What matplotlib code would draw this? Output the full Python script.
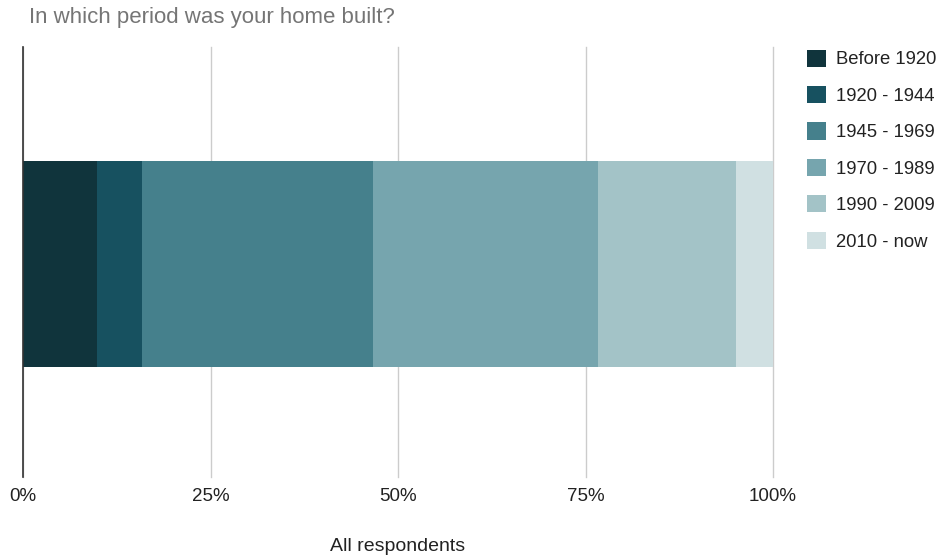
import matplotlib.pyplot as plt

plt.rcParams['font.family'] = ['Liberation Sans', 'DejaVu Sans']

periods = ['Before 1920', '1920 - 1944', '1945 - 1969', '1970 - 1989', '1990 - 2009', '2010 - now']
shares = [9.9, 6.0, 30.8, 30.0, 18.4, 4.9]
colors = ['#10343c', '#175160', '#45808c', '#76a5ae', '#a3c3c7', '#d0e0e2']
group = 'All respondents'

fig = plt.figure(figsize=(9.48, 5.59), dpi=100)
ax = fig.add_axes([23 / 948, 1 - 477 / 559, 750 / 948, 430 / 559])

left = 0
bars = []
for name, val, col in zip(periods, shares, colors):
    b = ax.barh(0, val, left=left, height=0.479, color=col, label=name, zorder=3)
    bars.append(b)
    left += val

ax.set_xlim(0, 100)
ax.set_ylim(-0.4953, 0.5047)
ax.set_xticks([0, 25, 50, 75, 100])
ax.set_xticklabels(['0%', '25%', '50%', '75%', '100%'], fontsize=13.5, color='#222222')
ax.set_yticks([])
ax.tick_params(axis='x', length=0, pad=8)
ax.grid(axis='x', color='#cccccc', linewidth=1, zorder=0)
for line in ax.get_xgridlines():
    line.set_clip_on(False)
for s in ['top', 'right', 'bottom']:
    ax.spines[s].set_visible(False)
ax.spines['left'].set_color('#333333')
ax.spines['left'].set_linewidth(1.2)
ax.spines['left'].set_zorder(4)

ax.set_xlabel(group, fontsize=14, color='#222222', labelpad=24)

fig.text(29 / 948, 1 - 17 / 559, 'In which period was your home built?',
         fontsize=16, color='#757575', va='center', ha='left')

fig.legend(handles=bars, labels=periods, loc='upper left',
           bbox_to_anchor=(790 / 948, 1 - 33 / 559), frameon=False,
           fontsize=13.3, handlelength=1.05, handleheight=1.05,
           handletextpad=0.55, labelspacing=0.95, labelcolor='#222222')

fig.savefig('out.png', dpi=100)
